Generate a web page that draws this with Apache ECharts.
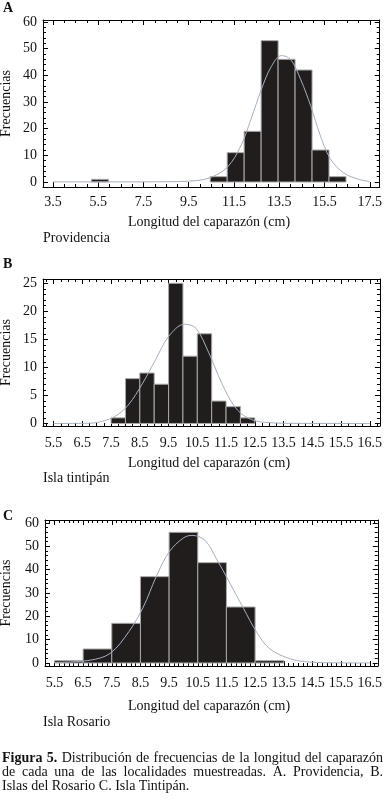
<!DOCTYPE html>
<html>
<head>
<meta charset="utf-8">
<script src="https://cdn.jsdelivr.net/npm/echarts@6/dist/echarts.min.js"></script>
<style>
  html, body { margin: 0; padding: 0; background: #fff; }
  #chart { width: 385px; height: 800px; }
</style>
</head>
<body>
<div id="chart"></div>
<script>
// ---- datos ----
// A. Providencia
const binStartA = [5.2, 10.45, 11.2, 11.95, 12.7, 13.45, 14.2, 14.95, 15.7];
const binWidthA = 0.75;
const countsA = [1, 2, 11, 19, 53, 46, 42, 12, 2];
const curveXA = [3.5, 6.5, 8.5, 9.5, 10.4, 11.2, 11.8, 12.25, 12.7, 13.15, 13.6, 14.0, 14.45, 14.9, 15.3, 15.75, 16.35, 17.05, 17.5];
const curveYA = [0.05, 0.05, 0.1, 0.3, 1.5, 5.5, 13.5, 23.5, 34.5, 43.3, 47.4, 46, 38.4, 28.3, 17.8, 8.8, 3.4, 0.9, 0.2];
const xTicksA = [3.5, 5.5, 7.5, 9.5, 11.5, 13.5, 15.5, 17.5];
const yTicksA = [0, 10, 20, 30, 40, 50, 60];

// B. Isla tintipán
const binStartB = [7.5, 8.0, 8.5, 9.0, 9.5, 10.0, 10.5, 11.0, 11.5, 12.0];
const binWidthB = 0.5;
const countsB = [1, 8, 9, 7, 25, 12, 16, 4, 3, 1];
const curveXB = [5.5, 6.75, 7.2, 7.65, 8.1, 8.6, 9.05, 9.5, 10.05, 10.45, 10.9, 11.35, 11.8, 12.25, 12.85, 14.0, 16.5];
const curveYB = [0, 0.05, 0.4, 1.3, 3.3, 7.2, 11.4, 15.5, 17.7, 17.0, 12.6, 7.2, 3.0, 1.0, 0.2, 0.02, 0];
const xTicksB = [5.5, 6.5, 7.5, 8.5, 9.5, 10.5, 11.5, 12.5, 13.5, 14.5, 15.5, 16.5];
const yTicksB = [0, 5, 10, 15, 20, 25];

// C. Isla Rosario
const binStartC = [5.5, 6.5, 7.5, 8.5, 9.5, 10.5, 11.5, 12.5];
const binWidthC = 1;
const countsC = [1, 6, 17, 37, 56, 43, 24, 1];
const curveXC = [5.5, 6.75, 7.45, 8.1, 8.6, 9.05, 9.5, 10.0, 10.3, 10.75, 11.15, 11.6, 12.1, 12.55, 13.0, 13.7, 14.4, 15.5, 16.5];
const curveYC = [0.2, 1.2, 4.2, 13.5, 24, 37, 47.6, 53.6, 54.7, 52.6, 44.7, 34.7, 23.3, 13.3, 6.2, 1.9, 0.4, 0.05, 0];
const xTicksC = [5.5, 6.5, 7.5, 8.5, 9.5, 10.5, 11.5, 12.5, 13.5, 14.5, 15.5, 16.5];
const yTicksC = [0, 10, 20, 30, 40, 50, 60];

// textos
const panelLetters = ['A', 'B', 'C'];
const placeNames = ['Providencia', 'Isla tintipán', 'Isla Rosario'];
const xTitle = 'Longitud del caparazón (cm)';
const yTitle = 'Frecuencias';
const captionLines = [
  [['Figura 5.', true], ['Distribución de frecuencias de la longitud del caparazón', false]],
  [['de cada una de las localidades muestreadas. A. Providencia, B.', false]],
  [['Islas del Rosario C. Isla Tintipán.', false]]
];

const FONT = '"Liberation Serif", "Times New Roman", serif';
const TXT = '#111';
const BAR_FILL = '#221d1d';
const BAR_EDGE = '#a8a8a8';
const CURVE = '#a7aebf';

// paneles: posición del marco y rango de ejes
const panels = [
  { grid: { left: 43, top: 20, width: 340, height: 167 }, xr: [3.06, 17.94], yr: [-1.875, 60.75],
    xT: xTicksA, yT: yTicksA, xMinor: 0.5, yMinor: 2, labMargin: 8,
    bins: binStartA, bw: binWidthA, counts: countsA, cx: curveXA, cy: curveYA,
    letterY: 8, titleY: 222, nameY: 238 },
  { grid: { left: 43, top: 279, width: 340, height: 147 }, xr: [5.131, 16.855], yr: [-0.45, 25.77],
    xT: xTicksB, yT: yTicksB, xMinor: 0.25, yMinor: 1, labMargin: 10,
    bins: binStartB, bw: binWidthB, counts: countsB, cx: curveXB, cy: curveYB,
    letterY: 264, titleY: 463, nameY: 478 },
  { grid: { left: 45, top: 520, width: 334, height: 146 }, xr: [5.17, 16.78], yr: [-1.29, 61.29],
    xT: xTicksC, yT: yTicksC, xMinor: 1 / 6, yMinor: 2, labMargin: 10,
    bins: binStartC, bw: binWidthC, counts: countsC, cx: curveXC, cy: curveYC,
    letterY: 516, titleY: 706, nameY: 722 }
];

// marcas menores entre el rango, sin repetir las mayores
function minorTicks(base, step, lo, hi, majors) {
  const out = [];
  const k0 = Math.ceil((lo - base) / step - 1e-6);
  const k1 = Math.floor((hi - base) / step + 1e-6);
  for (let k = k0; k <= k1; k++) {
    const v = +(base + k * step).toFixed(4);
    if (!majors.some(m => Math.abs(m - v) < 1e-3)) out.push(v);
  }
  return out;
}

function axis(g, kind, pos, range, ticks, len, withLine, label, margin) {
  const a = {
    gridIndex: g, type: 'value', position: pos, min: range[0], max: range[1],
    axisLine: { show: withLine, onZero: false, lineStyle: { color: '#000', width: 1 } },
    axisTick: { show: true, inside: true, length: len, customValues: ticks, lineStyle: { color: '#000', width: 1 } },
    axisLabel: { show: false },
    splitLine: { show: false }
  };
  if (label) {
    a.axisLabel = {
      show: true, customValues: ticks, margin: margin,
      fontFamily: FONT, fontSize: 14, color: TXT,
      formatter: v => kind === 'x' ? v.toFixed(1) : String(v)
    };
  }
  return a;
}

const grids = [], xAxes = [], yAxes = [], series = [], graphics = [];

panels.forEach((p, g) => {
  grids.push(p.grid);
  const mx = minorTicks(p.xT[0], p.xMinor, p.xr[0], p.xr[1], p.xT);
  const my = minorTicks(p.yT[0], p.yMinor, p.yr[0], p.yr[1], p.yT);
  xAxes.push(
    axis(g, 'x', 'bottom', p.xr, p.xT, 5, true, true, p.labMargin),
    axis(g, 'x', 'bottom', p.xr, mx, 3, false, false),
    axis(g, 'x', 'top', p.xr, p.xT, 5, true, false),
    axis(g, 'x', 'top', p.xr, mx, 3, false, false)
  );
  yAxes.push(
    axis(g, 'y', 'left', p.yr, p.yT, 5, true, true, 6),
    axis(g, 'y', 'left', p.yr, my, 3, false, false),
    axis(g, 'y', 'right', p.yr, p.yT, 5, true, false),
    axis(g, 'y', 'right', p.yr, my, 3, false, false)
  );

  series.push({
    type: 'custom',
    xAxisIndex: g * 4, yAxisIndex: g * 4,
    data: p.bins.map((s, i) => [s, s + p.bw, p.counts[i]]),
    encode: { x: [0, 1], y: 2 },
    renderItem: (params, api) => {
      const top = api.coord([api.value(0), api.value(2)]);
      const bot = api.coord([api.value(1), 0]);
      return {
        type: 'rect',
        shape: { x: top[0], y: top[1], width: bot[0] - top[0], height: bot[1] - top[1] },
        style: { fill: BAR_FILL, stroke: BAR_EDGE, lineWidth: 1 }
      };
    },
    z: 2
  });
  series.push({
    type: 'line',
    xAxisIndex: g * 4, yAxisIndex: g * 4,
    data: p.cx.map((x, i) => [x, p.cy[i]]),
    smooth: 0.35,
    showSymbol: false,
    lineStyle: { color: CURVE, width: 1 },
    z: 3
  });

  const gd = p.grid;
  graphics.push(
    { type: 'text', x: 3, y: p.letterY, style: { text: panelLetters[g], font: 'bold 14px ' + FONT, fill: TXT, textVerticalAlign: 'middle', verticalAlign: 'middle' } },
    { type: 'text', x: 6.5, y: gd.top + gd.height / 2, rotation: Math.PI / 2,
      style: { text: yTitle, font: '14px ' + FONT, fill: TXT, textAlign: 'center', align: 'center', textVerticalAlign: 'middle', verticalAlign: 'middle' } },
    { type: 'text', x: 209, y: p.titleY, style: { text: xTitle, font: '14px ' + FONT, fill: TXT, textAlign: 'center', align: 'center', textVerticalAlign: 'middle', verticalAlign: 'middle' } },
    { type: 'text', x: 43, y: p.nameY, style: { text: placeNames[g], font: '14px ' + FONT, fill: TXT, textVerticalAlign: 'middle', verticalAlign: 'middle' } }
  );
});

// pie de figura, justificado palabra por palabra
const ctx = document.createElement('canvas').getContext('2d');
const capLeft = 2, capRight = 383, capY = [758, 772, 786.5];
captionLines.forEach((parts, li) => {
  const words = [];
  parts.forEach(([t, bold]) => t.split(' ').forEach(w => words.push({ t: w, bold })));
  const fonts = words.map(w => (w.bold ? 'bold ' : '') + '14px ' + FONT);
  const widths = words.map((w, i) => { ctx.font = fonts[i]; return ctx.measureText(w.t).width; });
  const total = widths.reduce((a, b) => a + b, 0);
  ctx.font = '14px ' + FONT;
  const justify = li < captionLines.length - 1;
  const gap = justify ? (capRight - capLeft - total) / (words.length - 1) : ctx.measureText(' ').width;
  let x = capLeft;
  words.forEach((w, i) => {
    graphics.push({ type: 'text', x: x, y: capY[li], style: { text: w.t, font: fonts[i], fill: TXT, textVerticalAlign: 'middle', verticalAlign: 'middle' } });
    x += widths[i] + gap;
  });
});

const chart = echarts.init(document.getElementById('chart'), null, { renderer: 'canvas' });
chart.setOption({
  animation: false,
  backgroundColor: '#fff',
  grid: grids,
  xAxis: xAxes,
  yAxis: yAxes,
  series: series,
  graphic: graphics
});
</script>
</body>
</html>
